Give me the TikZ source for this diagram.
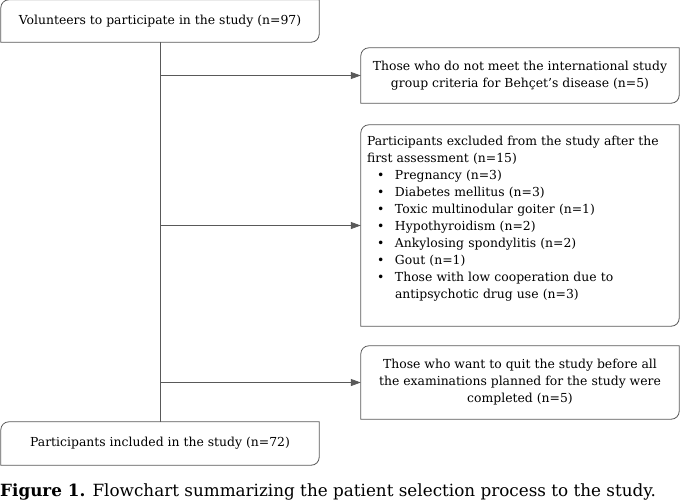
\documentclass[tikz,border=0pt]{standalone}
\usepackage{fontspec}
\setmainfont{DejaVu Serif}
\usetikzlibrary{arrows.meta}

\newcommand{\cornerframe}[1]{%
\draw [frameline] ([yshift=-8pt]#1.north west) arc [start angle=180,end angle=90,radius=8pt] -- (#1.north east) -- ([yshift=8pt]#1.south east) arc [start angle=0,end angle=-90,radius=8pt] -- (#1.south west) -- cycle;}

\begin{document}
\begin{tikzpicture}[x=1pt,y=1pt,
  frameline/.style={line width=0.8pt,color=black!65},
  flowbox/.style={inner sep=0pt,minimum width=318pt,align=center,font=\fontsize{12.4}{17}\selectfont},
  flowarrow/.style={line width=0.8pt,color=black!65,-{Triangle[length=10pt,width=7pt]}}]

\useasboundingbox (0,0) rectangle (680,-501);

\node [flowbox,minimum height=42pt] (vol) at (160,-21) {Volunteers to participate in the study (n=97)};
\node [flowbox,minimum height=55pt] (crit) at (520,-75.5) {Those who do not meet the international study\\ group criteria for Behçet's disease (n=5)};
\node [flowbox,minimum height=201pt,text width=306pt,align=left] (excl) at (520,-225.5) {Participants excluded from the study after the\\
first assessment (n=15)\\
\hspace*{10pt}\makebox[18pt][l]{\textbullet}Pregnancy (n=3)\\
\hspace*{10pt}\makebox[18pt][l]{\textbullet}Diabetes mellitus (n=3)\\
\hspace*{10pt}\makebox[18pt][l]{\textbullet}Toxic multinodular goiter (n=1)\\
\hspace*{10pt}\makebox[18pt][l]{\textbullet}Hypothyroidism (n=2)\\
\hspace*{10pt}\makebox[18pt][l]{\textbullet}Ankylosing spondylitis (n=2)\\
\hspace*{10pt}\makebox[18pt][l]{\textbullet}Gout (n=1)\\
\hspace*{10pt}\makebox[18pt][l]{\textbullet}Those with low cooperation due to\\
\hspace*{28pt}antipsychotic drug use (n=3)\\
\mbox{}};
\node [flowbox,minimum height=73pt] (quit) at (520,-382.5) {Those who want to quit the study before all\\ the examinations planned for the study were\\ completed (n=5)};
\node [flowbox,minimum height=43pt] (incl) at (160,-443.5) {Participants included in the study (n=72)};

\cornerframe{vol}
\cornerframe{crit}
\cornerframe{excl}
\cornerframe{quit}
\cornerframe{incl}

\draw [frameline] (vol.south) -- (incl.north);
\draw [flowarrow] (vol.south |- crit.west) -- (crit.west);
\draw [flowarrow] (vol.south |- excl.west) -- (excl.west);
\draw [flowarrow] (vol.south |- quit.west) -- (quit.west);

\node [anchor=base west,inner sep=0pt,font=\fontsize{16.8}{19}\selectfont] (cap) at (0,-496) {\textbf{Figure 1.} Flowchart summarizing the patient selection process to the study.};
\end{tikzpicture}
\end{document}
